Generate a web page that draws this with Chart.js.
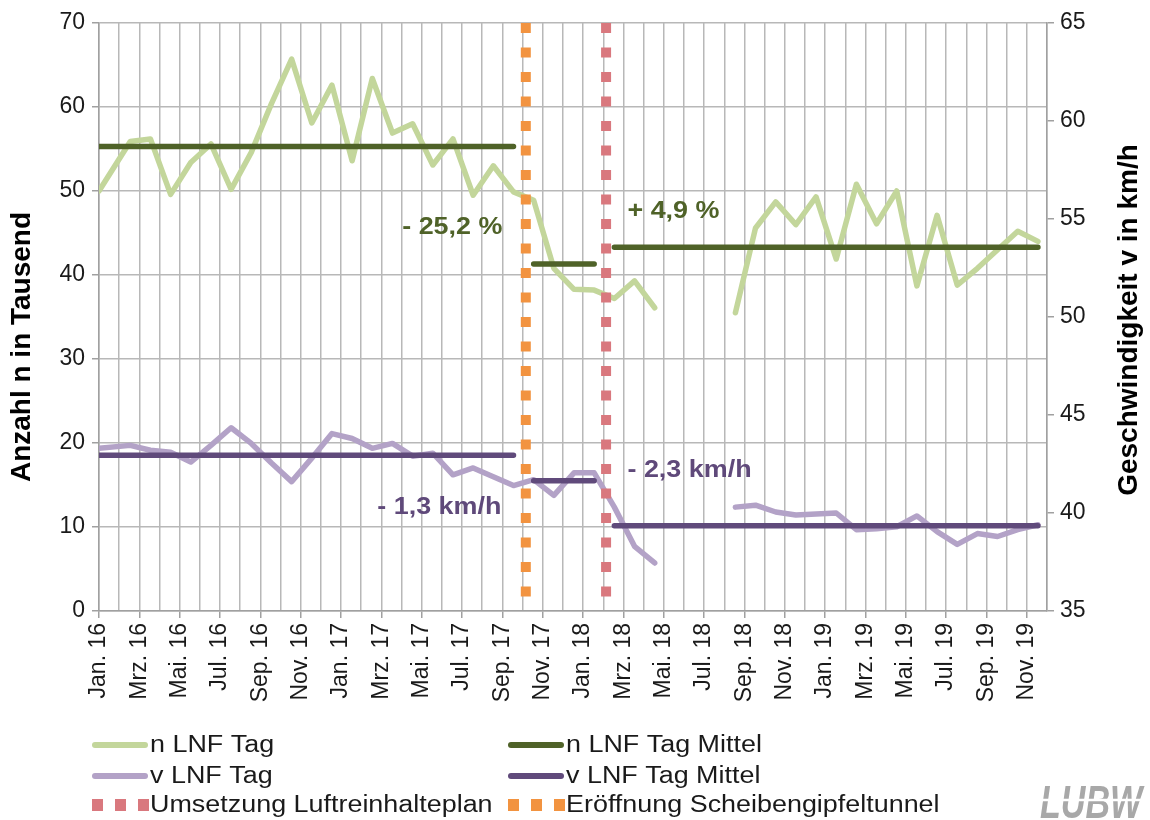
<!DOCTYPE html>
<html lang="de">
<head>
<meta charset="utf-8">
<title>LNF Tag – Anzahl und Geschwindigkeit</title>
<script src="https://cdn.jsdelivr.net/npm/chart.js@4.4.0/dist/chart.umd.min.js"></script>
<style>
  html, body { margin: 0; padding: 0; background: #fff; }
  #wrap { width: 1150px; height: 820px; position: relative; }
</style>
</head>
<body>
<div id="wrap"><canvas id="chart" width="1150" height="820"></canvas></div>
<script>
// Monate Jan. 16 bis Dez. 19
const monthNames = ['Jan.', 'Feb.', 'Mrz.', 'Apr.', 'Mai.', 'Jun.', 'Jul.', 'Aug.', 'Sep.', 'Okt.', 'Nov.', 'Dez.'];
const years = ['16', '17', '18', '19'];
const monthLabels = years.flatMap(y => monthNames.map(m => m + ' ' + y));

// Anzahl n LNF Tag (Tausend), Jan. 16 .. Nov. 19
const nTag = [
  50.0, 55.9, 56.2, 49.6, 53.4, 55.6, 50.2, 54.6, 60.4, 65.7, 58.1, 62.6,
  53.6, 63.4, 56.9, 58.0, 53.1, 56.2, 49.5, 53.0, 49.9, 48.9, 40.8, 38.3,
  38.2, 37.2, 39.3, 36.1, null, null, null, 35.5, 45.6, 48.7, 46.0, 49.3,
  41.9, 50.8, 46.1, 50.0, 38.7, 47.1, 38.8, 40.8, 43.0, 45.2, 44.0
];

// Geschwindigkeit v LNF Tag (km/h)
const vTag = [
  43.3, 43.45, 43.2, 43.1, 42.6, 43.45, 44.35, 43.55, 42.55, 41.6, 42.8, 44.05,
  43.8, 43.3, 43.55, 42.9, 43.05, 41.95, 42.3, 41.85, 41.4, 41.7, 40.9, 42.05,
  42.05, 40.3, 38.3, 37.45, null, null, null, 40.3, 40.4, 40.05, 39.9, 39.95,
  40.0, 39.15, 39.2, 39.3, 39.85, 39.05, 38.4, 38.95, 38.8, 39.15, 39.4
];

// Mittelwerte je Zeitraum (erster und letzter Monatsindex)
const periods = [[0, 20], [21, 24], [25, 46]];
const nMittel = [55.3, 41.3, 43.3];
const vMittel = [42.95, 41.65, 39.35];

// Ereignisse (Monatsindex)
const eroeffnungMonat = 21.16;   // Eröffnung Scheibengipfeltunnel
const umsetzungMonat = 25.14;    // Umsetzung Luftreinhalteplan

const nTicks = { min: 0, max: 70, step: 10 };
const vTicks = { min: 35, max: 65, step: 5 };

const annotations = [
  { text: '- 25,2 %', x: 20.0, y: 45.6, align: 'right', color: '#4F6228' },
  { text: '+ 4,9 %', x: 26.2, y: 47.6, align: 'left', color: '#4F6228' },
  { text: '- 1,3 km/h', x: 19.95, y: 12.3, align: 'right', color: '#5F497A' },
  { text: '- 2,3 km/h', x: 26.2, y: 16.7, align: 'left', color: '#5F497A' }
];

const colors = {
  nTag: '#C3D69B',
  nMittel: '#4F6228',
  vTag: '#B3A2C7',
  vMittel: '#604A7B',
  umsetzung: '#D9787E',
  eroeffnung: '#F29340',
  grid: '#B8B8B8',
  axis: '#A0A0A0',
  text: '#1A1A1A'
};

const FONT = "'Liberation Sans', Arial, sans-serif";
const STRETCH = 1.17;   // Texte im Original sind etwas breit gezogen

// Datenpunkte liegen Mitte Monat, der erste am Achsanfang
const xPos = (i) => (i === 0 ? 0 : i + 0.55);

const toPoints = (values) => values.map((v, i) => ({ x: xPos(i), y: v }));

const meanPoints = (means) => {
  const pts = [];
  periods.forEach((p, k) => {
    pts.push({ x: xPos(p[0]), y: means[k] });
    pts.push({ x: xPos(p[1]), y: means[k] });
    pts.push({ x: xPos(p[1]) + 0.3, y: null });
  });
  return pts;
};

const eventLine = (month) => [{ x: month, y: nTicks.max }, { x: month, y: nTicks.min }];

const legendItems = [
  { label: 'n LNF Tag', color: colors.nTag, dashed: false, col: 0, row: 0 },
  { label: 'n LNF Tag Mittel', color: colors.nMittel, dashed: false, col: 1, row: 0 },
  { label: 'v LNF Tag', color: colors.vTag, dashed: false, col: 0, row: 1 },
  { label: 'v LNF Tag Mittel', color: colors.vMittel, dashed: false, col: 1, row: 1 },
  { label: 'Umsetzung Luftreinhalteplan', color: colors.umsetzung, dashed: true, col: 0, row: 2 },
  { label: 'Eröffnung Scheibengipfeltunnel', color: colors.eroeffnung, dashed: true, col: 1, row: 2 }
];

// Text zeichnen, optional gedreht und horizontal gestreckt
function drawText(ctx, text, x, y, o) {
  ctx.save();
  ctx.translate(x, y);
  ctx.scale(o.sx || 1, 1);
  if (o.rotate) ctx.rotate(-Math.PI / 2);
  ctx.font = o.font;
  ctx.fillStyle = o.color;
  ctx.textAlign = o.align || 'left';
  ctx.textBaseline = o.baseline || 'middle';
  ctx.fillText(text, 0, 0);
  ctx.restore();
}

/**
 * Achsentitel, Legende, Beschriftungen und Logo
 */
const extrasPlugin = {
  id: 'extras',
  afterDraw(chart) {
    const ctx = chart.ctx;
    const xs = chart.scales.x;
    const ys = chart.scales.y;

    // Achsentitel
    drawText(ctx, 'Anzahl n in Tausend', 22, 347, {
      font: 'bold 28px ' + FONT, color: '#000', align: 'center', rotate: true
    });
    drawText(ctx, 'Geschwindigkeit v in km/h', 1129, 320, {
      font: 'bold 28px ' + FONT, color: '#000', align: 'center', rotate: true
    });

    // Beschriftungen der Änderungen
    annotations.forEach(a => {
      drawText(ctx, a.text, xs.getPixelForValue(a.x), ys.getPixelForValue(a.y), {
        font: 'bold 23px ' + FONT, color: a.color, align: a.align, sx: STRETCH
      });
    });

    // Legende
    const colX = [92, 508];
    const rowY = [745, 776, 805];
    legendItems.forEach(item => {
      const x0 = colX[item.col];
      const y0 = rowY[item.row];
      ctx.save();
      if (item.dashed) {
        ctx.fillStyle = item.color;
        for (let k = 0; k < 3; k++) {
          ctx.fillRect(x0 + k * 23, y0 - 6, 11, 12);
        }
      } else {
        ctx.strokeStyle = item.color;
        ctx.lineWidth = 6;
        ctx.lineCap = 'round';
        ctx.beginPath();
        ctx.moveTo(x0 + 3, y0);
        ctx.lineTo(x0 + 53, y0);
        ctx.stroke();
      }
      ctx.restore();
      drawText(ctx, item.label, x0 + 58, y0 + 1, {
        font: '23px ' + FONT, color: colors.text, sx: STRETCH
      });
    });

    // Logo
    drawText(ctx, 'LUBW', 1040, 818, {
      font: "italic bold 46px 'Liberation Sans', sans-serif",
      color: '#A8A8A8', baseline: 'alphabetic', sx: 0.74
    });
    ctx.save();
    ctx.strokeStyle = '#fff';
    ctx.lineWidth = 2.5;
    ctx.beginPath();
    ctx.moveTo(1030, 800);
    ctx.lineTo(1150, 800);
    ctx.stroke();
    ctx.restore();
  }
};

const lineStyle = {
  pointRadius: 0,
  pointHoverRadius: 0,
  tension: 0,
  borderJoinStyle: 'round',
  borderCapStyle: 'round',
  fill: false
};

const ctx = document.getElementById('chart').getContext('2d');

new Chart(ctx, {
  type: 'line',
  data: {
    datasets: [
      {
        label: 'Eröffnung Scheibengipfeltunnel',
        data: eventLine(eroeffnungMonat),
        borderColor: colors.eroeffnung,
        borderWidth: 10,
        borderDash: [10, 14.5],
        borderCapStyle: 'butt',
        pointRadius: 0,
        yAxisID: 'y',
        order: 0
      },
      {
        label: 'Umsetzung Luftreinhalteplan',
        data: eventLine(umsetzungMonat),
        borderColor: colors.umsetzung,
        borderWidth: 10,
        borderDash: [10, 14.5],
        borderCapStyle: 'butt',
        pointRadius: 0,
        yAxisID: 'y',
        order: 0
      },
      {
        ...lineStyle,
        label: 'n LNF Tag Mittel',
        data: meanPoints(nMittel),
        borderColor: colors.nMittel,
        borderWidth: 5.5,
        yAxisID: 'y',
        order: 1
      },
      {
        ...lineStyle,
        label: 'v LNF Tag Mittel',
        data: meanPoints(vMittel),
        borderColor: colors.vMittel,
        borderWidth: 5.5,
        yAxisID: 'y2',
        order: 1
      },
      {
        ...lineStyle,
        label: 'n LNF Tag',
        data: toPoints(nTag),
        borderColor: colors.nTag,
        borderWidth: 5.5,
        yAxisID: 'y',
        order: 2
      },
      {
        ...lineStyle,
        label: 'v LNF Tag',
        data: toPoints(vTag),
        borderColor: colors.vTag,
        borderWidth: 5.5,
        yAxisID: 'y2',
        order: 2
      }
    ]
  },
  options: {
    responsive: false,
    animation: false,
    layout: { padding: { top: 23, left: 0, right: 0, bottom: 114 } },
    plugins: {
      legend: { display: false },
      tooltip: { enabled: false }
    },
    scales: {
      x: {
        type: 'linear',
        min: 0,
        max: monthLabels.length - 1,
        afterBuildTicks: (scale) => {
          scale.ticks = monthLabels.map((_, i) => ({ value: i }));
        },
        afterFit: (scale) => { scale.height = 95; },
        ticks: {
          autoSkip: false,
          maxRotation: 90,
          minRotation: 90,
          padding: 5,
          color: colors.text,
          font: { family: FONT, size: 23 },
          callback: (value) => (value % 2 === 0 ? monthLabels[value] : '')
        },
        grid: {
          color: colors.grid,
          lineWidth: 1.5,
          tickLength: 7,
          tickColor: (c) => (c.tick && c.tick.value % 2 === 0 ? colors.axis : 'rgba(0,0,0,0)')
        },
        border: { color: colors.axis, width: 1.5 }
      },
      y: {
        position: 'left',
        min: nTicks.min,
        max: nTicks.max,
        afterFit: (scale) => { scale.width = 99; },
        ticks: {
          stepSize: nTicks.step,
          padding: 7,
          color: colors.text,
          font: { family: FONT, size: 23 }
        },
        grid: { color: colors.grid, lineWidth: 1.5, tickLength: 7, tickColor: colors.axis },
        border: { color: colors.axis, width: 1.5 }
      },
      y2: {
        position: 'right',
        min: vTicks.min,
        max: vTicks.max,
        afterFit: (scale) => { scale.width = 103; },
        ticks: {
          stepSize: vTicks.step,
          padding: 6,
          color: colors.text,
          font: { family: FONT, size: 23 }
        },
        grid: { drawOnChartArea: false, tickLength: 7, tickColor: colors.axis, lineWidth: 1.5 },
        border: { color: colors.axis, width: 1.5 }
      }
    }
  },
  plugins: [extrasPlugin]
});
</script>
</body>
</html>
